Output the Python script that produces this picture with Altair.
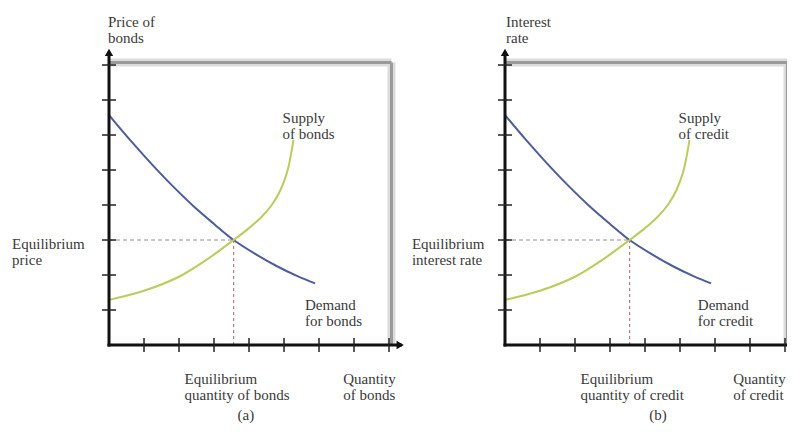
import altair as alt
import pandas as pd

# ---- data (in axis-tick units) ----
demand_q = [0.0, 0.6, 1.2, 1.8, 2.4, 3.0, 3.56, 4.2, 4.8, 5.4, 5.89]
demand_p = [6.57, 5.86, 5.19, 4.56, 3.98, 3.46, 3.0, 2.59, 2.25, 1.96, 1.76]
supply_q = [0.0, 1.0, 2.0, 2.75, 3.56, 4.0, 4.35, 4.65, 4.9, 5.1, 5.27]
supply_p = [1.29, 1.55, 1.95, 2.41, 3.0, 3.34, 3.65, 4.0, 4.43, 4.98, 5.86]
eq_q = 3.56
eq_p = 3.0
tick_values = [1, 2, 3, 4, 5, 6, 7, 8]
panel_names = ["a", "b"]
y_titles = ["Price of\nbonds", "Interest\nrate"]
eq_y_labels = ["Equilibrium\nprice", "Equilibrium\ninterest rate"]
supply_labels = ["Supply\nof bonds", "Supply\nof credit"]
demand_labels = ["Demand\nfor bonds", "Demand\nfor credit"]
eq_x_labels = ["Equilibrium\nquantity of bonds", "Equilibrium\nquantity of credit"]
x_titles = ["Quantity\nof bonds", "Quantity\nof credit"]
captions = ["(a)", "(b)"]

# ---- layout ----
offsets = [0.0, 11.314]
W, H = 779, 416
xs = alt.Scale(domain=[-2.886, 19.371], nice=False, zero=False)
ys = alt.Scale(domain=[-2.257, 9.629], nice=False, zero=False)
TOP = 8.07
AX_END = 8.42

def X(f="x"):
    return alt.X(f"{f}:Q", scale=xs, axis=None)

def Y(f="y"):
    return alt.Y(f"{f}:Q", scale=ys, axis=None)

curve_rows, frame_rows, axis_rows, tick_rows = [], [], [], []
hdash, vdash, arrows_up, arrows_right = [], [], [], []
texts_left, texts_center = [], []
for i, off in enumerate(offsets):
    for k, (q, p) in enumerate(zip(demand_q, demand_p)):
        curve_rows.append(dict(x=q + off, y=p, s=f"D{i}", o=k, kind="demand"))
    for k, (q, p) in enumerate(zip(supply_q, supply_p)):
        curve_rows.append(dict(x=q + off, y=p, s=f"S{i}", o=k, kind="supply"))
    frame_rows.append(dict(x=off, x2=off + TOP, y=TOP, y2=TOP))
    frame_rows.append(dict(x=off + TOP, x2=off + TOP, y=0, y2=TOP))
    axis_rows.append(dict(x=off, x2=off, y=0, y2=AX_END - 0.1))
    axis_rows.append(dict(x=off, x2=off + AX_END - 0.1, y=0, y2=0))
    for t in tick_values:
        tick_rows.append(dict(x=off - 0.2, x2=off + 0.2, y=t, y2=t))
        tick_rows.append(dict(x=off + t, x2=off + t, y=-0.2, y2=0.2))
    hdash.append(dict(x=off, x2=off + eq_q, y=eq_p, y2=eq_p))
    vdash.append(dict(x=off + eq_q, x2=off + eq_q, y=0, y2=eq_p))
    arrows_up.append(dict(x=off, y=8.36))
    arrows_right.append(dict(x=off + 8.32, y=0))
    texts_left += [
        dict(x=off + (-0.03 if i == 0 else 0.03), y=9.22, t=y_titles[i]),
        dict(x=off + (-2.77 if i == 0 else -2.66), y=2.9, t=eq_y_labels[i]),
        dict(x=off + 4.96, y=6.49, t=supply_labels[i]),
        dict(x=off + (5.6 if i == 0 else 5.51), y=1.14, t=demand_labels[i]),
        dict(x=off + 2.16, y=-0.97, t=eq_x_labels[i]),
        dict(x=off + (6.69 if i == 0 else 6.52), y=-0.97, t=x_titles[i]),
    ]
    texts_center.append(dict(x=off + (3.91 if i == 0 else 4.37), y=-2.0, t=captions[i]))

df = pd.DataFrame

shadow = alt.Chart(df(frame_rows)).mark_rule(color="#dcdcdc", strokeWidth=8).encode(
    x=X(), x2="x2", y=Y(), y2="y2")
frame = alt.Chart(df(frame_rows)).mark_rule(color="#9a9a9a", strokeWidth=3).encode(
    x=X(), x2="x2", y=Y(), y2="y2")
hd = alt.Chart(df(hdash)).mark_rule(color="#a08890", strokeWidth=1.2, strokeDash=[4, 3]).encode(
    x=X(), x2="x2", y=Y(), y2="y2")
vd = alt.Chart(df(vdash)).mark_rule(color="#c07890", strokeWidth=1.2, strokeDash=[3, 3]).encode(
    x=X(), x2="x2", y=Y(), y2="y2")
curves = alt.Chart(df(curve_rows)).mark_line(interpolate="catmull-rom", strokeWidth=2).encode(
    x=X(), y=Y(), detail="s:N", order="o:Q",
    color=alt.Color("kind:N", scale=alt.Scale(domain=["demand", "supply"],
                                              range=["#4f5c98", "#b9cc5c"]), legend=None))
axes = alt.Chart(df(axis_rows)).mark_rule(color="#111111", strokeWidth=3, strokeCap="square").encode(
    x=X(), x2="x2", y=Y(), y2="y2")
ticks = alt.Chart(df(tick_rows)).mark_rule(color="#222222", strokeWidth=1.5).encode(
    x=X(), x2="x2", y=Y(), y2="y2")
aup = alt.Chart(df(arrows_up)).mark_point(shape="triangle-up", filled=True, size=70,
                                          color="#111111", opacity=1).encode(x=X(), y=Y())
aright = alt.Chart(df(arrows_right)).mark_point(shape="triangle-right", filled=True, size=70,
                                                color="#111111", opacity=1).encode(x=X(), y=Y())
tl = alt.Chart(df(texts_left)).mark_text(align="left", baseline="middle", font="Liberation Serif",
                                         fontSize=15, lineBreak="\n", lineHeight=16,
                                         color="#3a3a3a").encode(x=X(), y=Y(), text="t:N")
tc = alt.Chart(df(texts_center)).mark_text(align="center", baseline="middle", font="Liberation Serif",
                                           fontSize=15, color="#3a3a3a").encode(x=X(), y=Y(), text="t:N")

chart = alt.layer(shadow, frame, hd, vd, curves, axes, ticks, aup, aright, tl, tc).properties(
    width=W, height=H, padding=0, autosize=alt.AutoSizeParams(type="none")
).configure_view(stroke=None)

chart.save("out.html", embed_options={"renderer": "svg", "actions": False})
